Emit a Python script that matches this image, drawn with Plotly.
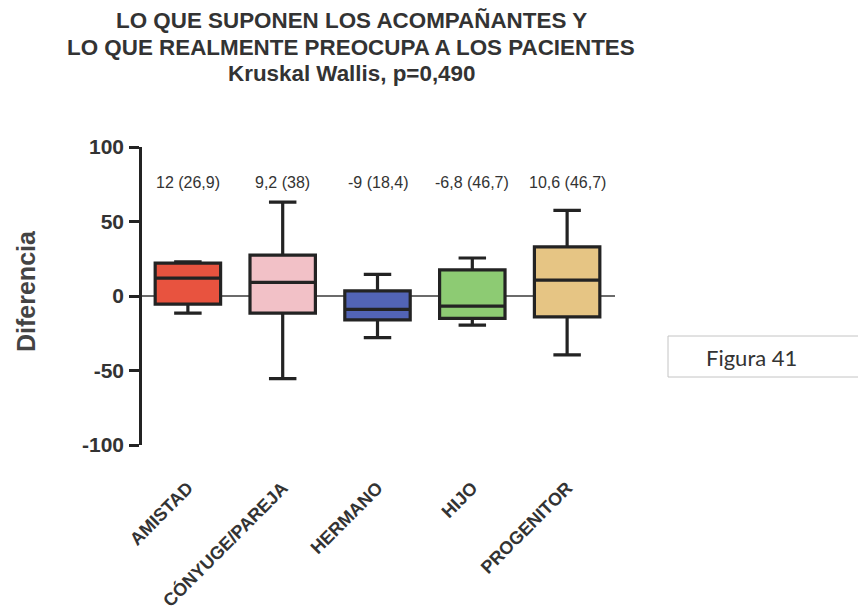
import plotly.graph_objects as go

# data
categories = ["AMISTAD", "CÓNYUGE/PAREJA", "HERMANO", "HIJO", "PROGENITOR"]
lower_whisker = [-11.5, -55.5, -28, -19.5, -39.5]
q1 = [-5.5, -11.5, -16, -15, -14]
median = [12, 9.2, -9, -6.8, 10.6]
q3 = [22, 27.5, 3.5, 17.5, 33]
upper_whisker = [23, 63, 14.5, 25.5, 57.5]
box_labels = ["12 (26,9)", "9,2 (38)", "-9 (18,4)", "-6,8 (46,7)", "10,6 (46,7)"]
label_y = 76
y_ticks = [-100, -50, 0, 50, 100]
y_ticktext = ["-100", "-50", "0", "50", "100"]

fills = ["#E8533F", "#F2C1C7", "#5264B6", "#8DCB73", "#E6C584"]
DARK = "#232323"
TEXT = "#333333"

# page body has an 8px margin, so the window pixel positions are shifted
OFF = 8
PL, PT, PW, PH = 142 - OFF, 147 - OFF, 473, 298
W, H = 866 - OFF, 610 - OFF


def px(x):
    return (x - OFF - PL) / PW


def py(y):
    return (PT + PH - (y - OFF)) / PH


fig = go.Figure()

for i, cat in enumerate(categories):
    fig.add_trace(go.Box(
        x=[cat], q1=[q1[i]], median=[median[i]], q3=[q3[i]],
        lowerfence=[lower_whisker[i]], upperfence=[upper_whisker[i]],
        fillcolor=fills[i],
        line=dict(color=DARK, width=3.2),
        width=0.69, whiskerwidth=0.42,
        boxpoints=False, showlegend=False, hoverinfo="skip",
    ))
    fig.add_annotation(x=cat, y=label_y, text=box_labels[i], showarrow=False,
                       font=dict(size=16, color=TEXT, family="Liberation Sans"))

# zero reference line behind the boxes
fig.add_shape(type="line", xref="paper", yref="y", x0=0, x1=1, y0=0, y1=0,
              line=dict(color="#3a3a3a", width=1.5), layer="below")

# title lines
titles = ["LO QUE SUPONEN LOS ACOMPAÑANTES Y",
          "LO QUE REALMENTE PREOCUPA A LOS PACIENTES",
          "Kruskal Wallis, p=0,490"]
title_y = [20, 47, 73]
for t, ty in zip(titles, title_y):
    fig.add_annotation(xref="paper", yref="paper", x=px(351), y=py(ty),
                       text="<b>%s</b>" % t, showarrow=False,
                       font=dict(size=22.4, color=TEXT, family="Liberation Sans"),
                       xanchor="center", yanchor="middle")

# y axis title
fig.add_annotation(xref="paper", yref="paper", x=px(26), y=py(291),
                   text="<b>Diferencia</b>", textangle=-90, showarrow=False,
                   font=dict(size=25, color="#444444", family="Liberation Sans"),
                   xanchor="center", yanchor="middle")

# "Figura 41" box on the right
fig.add_shape(type="rect", xref="paper", yref="paper",
              x0=px(668), x1=px(875), y0=py(377), y1=py(336),
              line=dict(color="#c4c4c4", width=1), fillcolor="white")
fig.add_annotation(xref="paper", yref="paper", x=px(751), y=py(357),
                   text="Figura 41", showarrow=False,
                   font=dict(size=22, color=TEXT, family="Lato"),
                   xanchor="center", yanchor="middle")

fig.update_layout(
    width=W, height=H,
    margin=dict(l=PL, r=W - PL - PW, t=PT, b=H - PT - PH),
    paper_bgcolor="white", plot_bgcolor="white",
    boxmode="overlay",
    font=dict(family="Liberation Sans", color=TEXT),
)
fig.update_xaxes(range=[-0.484, 4.505], showline=False, showgrid=False, ticks="",
                 tickangle=-45, ticklabelstandoff=28, automargin=False,
                 tickfont=dict(size=18, color=TEXT, family="Liberation Sans", weight="bold"))
fig.update_yaxes(range=[-100, 100], tickvals=y_ticks, ticktext=y_ticktext,
                 showline=True, linecolor=DARK, linewidth=2.5,
                 ticks="outside", ticklen=10, tickwidth=2.5, tickcolor=DARK,
                 showgrid=False, zeroline=False, ticklabelstandoff=1, automargin=False,
                 tickfont=dict(size=21, color=TEXT, family="Liberation Sans", weight="bold"))

fig.write_html("out.html")
